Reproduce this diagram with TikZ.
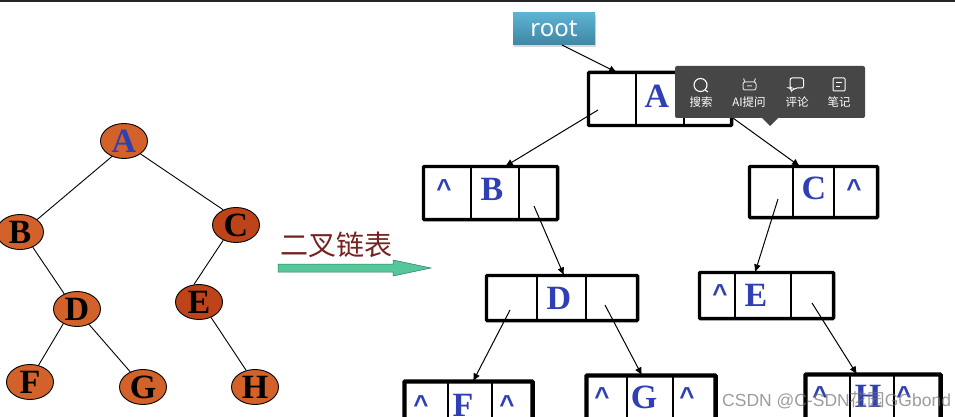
\documentclass[tikz,border=0pt]{standalone}
\usepackage{fontspec}
\setmainfont{Liberation Serif}
\newfontfamily\cjk{Noto Sans CJK SC}
\newfontfamily\rootfont{Noto Sans}
\newfontfamily\wmfont{Liberation Sans}
\usetikzlibrary{shapes.geometric,arrows.meta,fit,shadows,calc}
\definecolor{lblue}{HTML}{2F40B4}
\definecolor{orangeA}{HTML}{D2622A}
\definecolor{orangeB}{HTML}{BE4318}
\definecolor{popup}{HTML}{464646}
\definecolor{wred}{HTML}{762221}
\definecolor{rootT}{HTML}{5DB3D3}
\definecolor{rootB}{HTML}{3F86A4}
\definecolor{arrG}{HTML}{55C79B}
\definecolor{arrD}{HTML}{2F7A5C}
\tikzset{
 x=1pt,y=-1pt,
 tn/.style={ellipse,draw=black,line width=0.9pt,fill=orangeA,minimum width=47pt,minimum height=35pt,inner sep=0pt,font=\bfseries\fontsize{34}{34}\selectfont},
 tnd/.style={tn,fill=orangeB},
 edge/.style={line width=0.9pt,black},
 cell/.style={draw=black,line width=1.1pt,inner sep=0pt},
 ltr/.style={inner sep=0pt,text=lblue,font=\bfseries\fontsize{34}{34}\selectfont},
 caretmark/.style={inner sep=0pt,text=lblue,font=\wmfont\bfseries\fontsize{26}{26}\selectfont},
 rec/.style={draw=black,line width=3.4pt,rounded corners=0.8pt,inner sep=0pt},
 ptr/.style={line width=1pt,black,-{Latex[length=8pt,width=7pt]}},
 poplabel/.style={text=white,inner sep=0pt,font=\cjk\fontsize{11.5}{12}\selectfont},
}
\newcommand{\cellnode}[5]{%
 \pgfmathsetmacro\cw{#3-#2}\pgfmathsetmacro\ch{#5-#4}%
 \node[cell,minimum width=\cw pt,minimum height=\ch pt] (#1) at ({(#2+#3)/2},{(#4+#5)/2}) {};}
\newcommand{\record}[8][]{%
 \cellnode{#2L}{#3}{#4}{#7}{#8}%
 \cellnode{#2M}{#4}{#5}{#7}{#8}%
 \cellnode{#2R}{#5}{#6}{#7}{#8}%
 \node[rec,#1,fit=(#2L)(#2M)(#2R)] (#2) {};}
\newcommand{\caretat}[3]{\node[caretmark] (#1) at (#2,#3+4.5) {\^{}};}
\begin{document}
\begin{tikzpicture}
\useasboundingbox (0,0) rectangle (955,417);
\fill[white] (0,0) rectangle (955,417);
\fill[black!85] (0,0) rectangle (955,2);
% tree
\node[tn,text=lblue] (A) at (124,141) {A};
\node[tn] (B) at (20,232) {B};
\node[tnd] (C) at (236,225) {C};
\node[tn] (D) at (77,309) {D};
\node[tnd] (E) at (199,302) {E};
\node[tn] (F) at (30,382) {F};
\node[tn] (G) at (143,387) {G};
\node[tn] (H) at (255,387) {H};
\draw[edge] (A.-128) -- (B.36);
\draw[edge] (A.-38) -- (C.130);
\draw[edge] (B.-50) -- (D.130);
\draw[edge] (C.-130) -- (E.106);
\draw[edge] (D.-133) -- (F.63);
\draw[edge] (D.-52) -- (G.130);
\draw[edge] (E.-52) -- (H.118);
% big arrow
\node[text=wred,inner sep=0pt,font=\cjk\fontsize{28}{28}\selectfont] (lab) at (336,245) {二叉链表};
\draw[draw=arrD,line width=0.5pt,fill=arrG] (278,264) -- (393,264) -- (393,260) -- (431,268) -- (393,276) -- (393,272) -- (278,272) -- cycle;
% records
\record{a}{589}{636}{684}{731}{73}{125}
\record{b}{424}{471}{519}{557}{167}{219}
\record{c}{750}{793}{834}{877}{167}{217}
\record{d}{487}{537}{586}{637}{276}{320}
\record{e}{700}{735}{791}{833}{273}{318}
\record[line width=4.4pt]{f}{405}{448}{492}{532}{382}{432}
\record[line width=4.4pt]{g}{587}{627}{673}{715}{376}{426}
\record[line width=4.4pt]{h}{806}{850}{894}{940}{375}{425}
\node[ltr] (tA) at (657,96) {A};
\node[ltr] (tB) at (492,189) {B};
\node[ltr] (tC) at (814,188) {C};
\node[ltr] (tD) at (559,298) {D};
\node[ltr] (tE) at (756,295) {E};
\node[ltr] (tF) at (463,405) {F};
\node[ltr] (tG) at (644,397) {G};
\node[ltr] (tH) at (868,396) {H};
\caretat{kb}{444}{184}
\caretat{kc}{854}{184}
\caretat{ke}{720}{289}
\caretat{kf}{421}{400}
\caretat{kg}{507}{400}
\caretat{kh}{602}{392}
\caretat{ki}{687}{392}
\caretat{kj}{820}{391}
\caretat{kk}{904}{391}
% root
\node[inner sep=0pt,minimum width=82pt,minimum height=32pt,text=white,top color=rootT,bottom color=rootB,
 drop shadow={opacity=0.3,shadow xshift=1pt,shadow yshift=-2pt},font=\rootfont\fontsize{24}{24}\selectfont] (root) at (554,29) {root};
% pointers
\coordinate (rootP) at (562,45);
\coordinate (aP) at (598,110);
\coordinate (aQ) at (708,100);
\coordinate (bP) at (534,206);
\coordinate (cP) at (778,199);
\coordinate (dP) at (510,310);
\coordinate (dQ) at (605,305);
\coordinate (eP) at (812,303);
\draw[ptr] (rootP) -- ([xshift=4.5pt]aL.north);
\draw[ptr] (aP) -- ([xshift=10pt]bM.north);
\draw[ptr] (aQ) -- ([xshift=-13.5pt]cM.north);
\draw[ptr] (bP) -- ([xshift=2.5pt]dM.north);
\draw[ptr] (cP) -- ([xshift=-8pt]eM.north);
\draw[ptr] (dP) -- ([xshift=3pt]fM.north);
\draw[ptr] (dQ) -- ([xshift=-8pt]gM.north);
\draw[ptr] (eP) -- ([xshift=-15pt]hM.north);
% popup
\fill[popup,rounded corners=2pt] (675,66) rectangle (865,118);
\fill[popup] (762,118) -- (778,118) -- (770,126) -- cycle;
\draw[white,line width=1.1pt] (700.5,85) circle (6.5);
\draw[white,line width=1.1pt] (705,90) -- (708,92);
\draw[white!85!black,line width=1pt,rounded corners=2pt] (743,82) rectangle (756,90);
\draw[white!85!black,line width=1pt] (745,82) -- (743.5,78.5) (754,82) -- (755.5,78.5) (747,86) -- (752,86);
\draw[white,line width=1pt,rounded corners=2pt] (790,78) -- (803.5,78) -- (803.5,88) -- (795,88) -- (791,91.5) -- (791,88) -- (790,88) -- cycle;
\draw[white,line width=1pt,rounded corners=1pt] (833,78) rectangle (845,91);
\draw[white,line width=1pt] (836,83) -- (842,83) (836,86.5) -- (840,86.5);
\node[poplabel] (p1) at (701,102.5) {搜索};
\node[poplabel] (p2) at (749,102.5) {AI提问};
\node[poplabel] (p3) at (797,102.5) {评论};
\node[poplabel] (p4) at (839,102.5) {笔记};
% watermark
\node[anchor=west,inner sep=0pt,text=black!55,opacity=0.7,font=\wmfont\fontsize{17.5}{17.5}\selectfont] (wm) at (722,400) {CSDN @C-SDN{\cjk 花园}GGbond};
\end{tikzpicture}
\end{document}
